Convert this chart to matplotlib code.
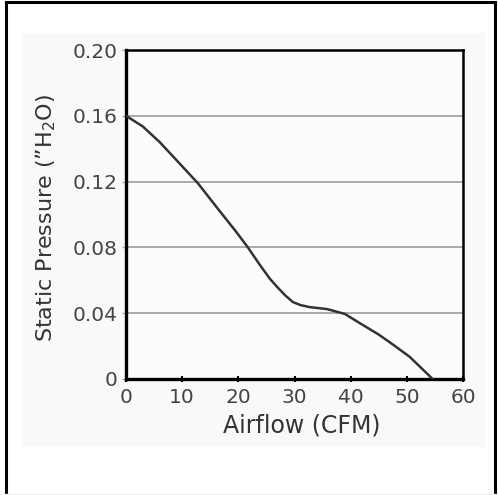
import matplotlib.pyplot as plt
from matplotlib.patches import Rectangle
from matplotlib.lines import Line2D

# fan curve
airflow = [0, 3, 6, 9, 12.8, 16.7, 19.5, 21.7, 23.7, 25.6, 26.9, 28.3, 29.7,
           31.0, 32.7, 35.8, 39.0, 41.6, 45.0, 47.5, 50.5, 54.6]
pressure = [0.160, 0.1535, 0.144, 0.133, 0.119, 0.102, 0.090, 0.080, 0.070,
            0.061, 0.056, 0.051, 0.0468, 0.045, 0.0437, 0.0425, 0.0395,
            0.034, 0.027, 0.021, 0.0135, 0.0]

xticks = [0, 10, 20, 30, 40, 50, 60]
yticks = [0, 0.04, 0.08, 0.12, 0.16, 0.20]
ylabels = ["0", "0.04", "0.08", "0.12", "0.16", "0.20"]

W, H = 498, 495
fig = plt.figure(figsize=(W/100, H/100), dpi=100)

# faint panel
fig.patches.append(Rectangle((22/W, 1-447/H), 463/W, 414/H, transform=fig.transFigure,
                             facecolor="#f9f9f9", edgecolor="none", zorder=-2))
# outer frame: top, left, right (no bottom)
for xs, ys in [([6, 495], [2, 2]), ([6, 6], [2, 495]), ([495, 495], [2, 495])]:
    fig.lines.append(Line2D([x/W for x in xs], [1-y/H for y in ys], transform=fig.transFigure,
                            color="black", linewidth=2.2, zorder=-1))
fig.lines.append(Line2D([0, 1], [1-494/H, 1-494/H], transform=fig.transFigure,
                        color="#eeeeee", linewidth=1, zorder=-1))

ax = fig.add_axes([126/W, 1-379/H, 337/W, 329/H])
ax.set_zorder(5)
ax.set_facecolor("#fcfcfc")

ax.plot(airflow, pressure, color="#333333", linewidth=1.8, zorder=3)

ax.set_xlim(0, 60)
ax.set_ylim(0, 0.20)
ax.set_xticks(xticks)
ax.set_yticks(yticks)
ax.set_yticklabels(ylabels)
ax.grid(axis="y", color="#aaaaaa", linewidth=1.4)
ax.set_axisbelow(True)

for s in ax.spines.values():
    s.set_color("black")
    s.set_linewidth(1.8)
ax.spines["left"].set_linewidth(2.4)
ax.spines["bottom"].set_linewidth(2.4)

ax.tick_params(axis="x", direction="inout", length=5, width=1.5, labelsize=14.5,
               labelcolor="#444444", pad=4)
ax.tick_params(axis="y", direction="out", length=3, width=1, color="#aaaaaa",
               labelsize=14.5, labelcolor="#444444", pad=3)

ax.set_xlabel("Airflow (CFM)", fontsize=17, color="#333333")
ax.set_ylabel("Static Pressure (\u201dH$_2$O)", fontsize=16, color="#333333")
ax.xaxis.set_label_coords(0.522, -0.105)
ax.yaxis.set_label_coords(-0.202, 0.488)

plt.savefig("out.png", dpi=100)
